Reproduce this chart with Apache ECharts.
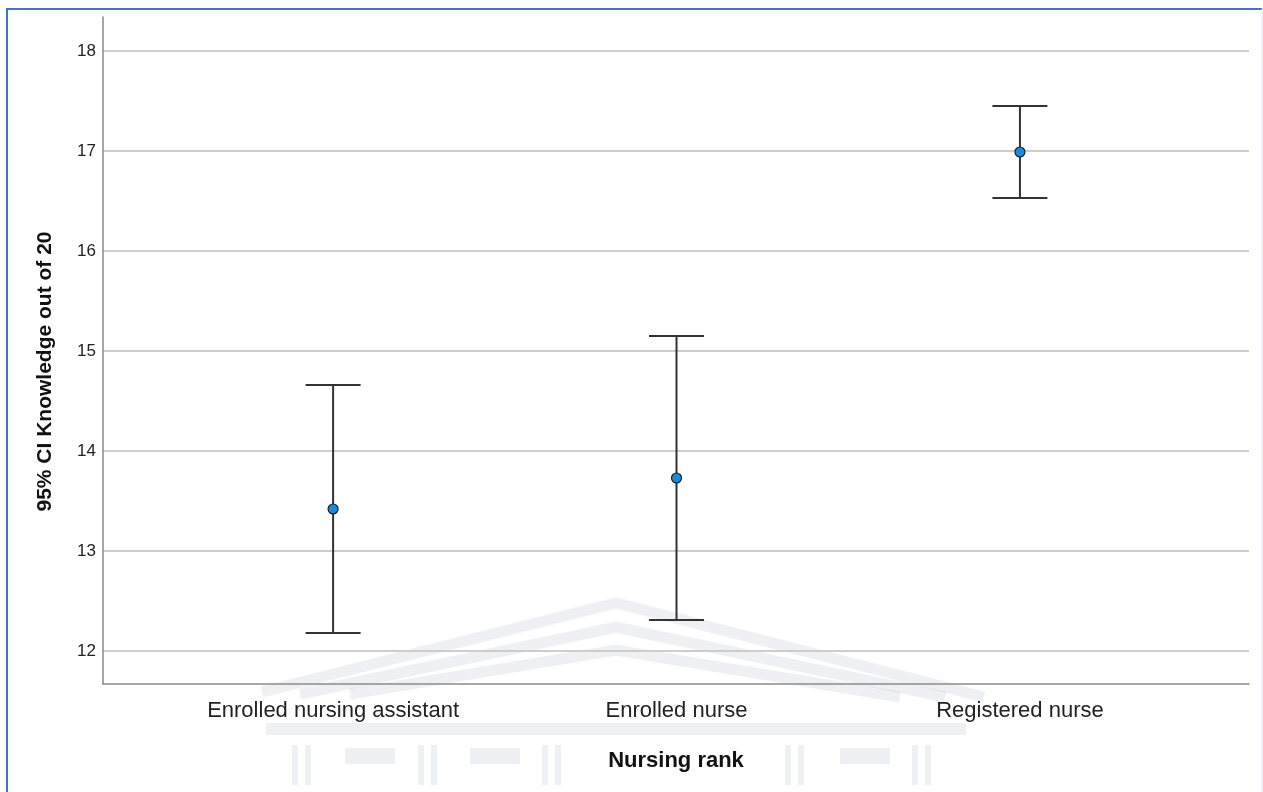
<!DOCTYPE html>
<html>
<head>
<meta charset="utf-8">
<script src="https://cdn.jsdelivr.net/npm/echarts@6/dist/echarts.min.js"></script>
<style>
  html, body { margin: 0; padding: 0; background: #fff; }
  #chart { width: 1263px; height: 792px; }
</style>
</head>
<body>
<div id="chart"></div>
<script>
// data
const categories = ['Enrolled nursing assistant', 'Enrolled nurse', 'Registered nurse'];
const means = [13.42, 13.73, 16.99];
const lowerCI = [12.18, 12.31, 16.53];
const upperCI = [14.66, 15.15, 17.45];
const yTicks = [12, 13, 14, 15, 16, 17, 18];

const font = "'Liberation Sans', Arial, sans-serif";
const wmColor = 'rgba(110,115,150,0.11)';

const instance = echarts.init(document.getElementById('chart'));

// faint building watermark behind the plot
const watermark = [
    { type: 'polyline', shape: { points: [[262, 692], [616, 603], [984, 697]] } },
    { type: 'polyline', shape: { points: [[300, 694], [616, 627], [945, 697]] } },
    { type: 'polyline', shape: { points: [[350, 694], [616, 650], [900, 697]] } },
    { type: 'rect', shape: { x: 266, y: 723, width: 700, height: 12 } },
    { type: 'rect', shape: { x: 292, y: 745, width: 6, height: 40 } },
    { type: 'rect', shape: { x: 305, y: 745, width: 6, height: 40 } },
    { type: 'rect', shape: { x: 345, y: 748, width: 50, height: 16 } },
    { type: 'rect', shape: { x: 418, y: 745, width: 6, height: 40 } },
    { type: 'rect', shape: { x: 431, y: 745, width: 6, height: 40 } },
    { type: 'rect', shape: { x: 470, y: 748, width: 50, height: 16 } },
    { type: 'rect', shape: { x: 542, y: 745, width: 6, height: 40 } },
    { type: 'rect', shape: { x: 555, y: 745, width: 6, height: 40 } },
    { type: 'rect', shape: { x: 785, y: 745, width: 6, height: 40 } },
    { type: 'rect', shape: { x: 798, y: 745, width: 6, height: 40 } },
    { type: 'rect', shape: { x: 840, y: 748, width: 50, height: 16 } },
    { type: 'rect', shape: { x: 912, y: 745, width: 6, height: 40 } },
    { type: 'rect', shape: { x: 925, y: 745, width: 6, height: 40 } }
].map(function (el) {
    if (el.type === 'polyline') {
        el.style = { stroke: wmColor, lineWidth: 11, fill: null };
    } else {
        el.style = { fill: wmColor };
    }
    el.z = -10;
    el.silent = true;
    return el;
});

// page frame: strong blue on left and top, faint on the right
const frame = [
    { type: 'polyline', shape: { points: [[7, 792], [7, 9], [1262, 9]] }, style: { stroke: '#4472c4', lineWidth: 2, fill: null } },
    { type: 'line', shape: { x1: 1262, y1: 9, x2: 1262, y2: 792 }, style: { stroke: '#dde4f2', lineWidth: 1 } }
].map(function (el) {
    el.z = 100;
    el.silent = true;
    return el;
});

let option = {
    backgroundColor: '#fff',
    animation: false,
    graphic: frame.concat(watermark),
    grid: {
        left: 103,
        right: 14,
        top: 17,
        bottom: 108
    },
    xAxis: {
        type: 'value',
        min: -0.67,
        max: 2.667,
        name: 'Nursing rank',
        nameLocation: 'middle',
        nameGap: 66,
        nameTextStyle: { fontFamily: font, fontSize: 22, fontWeight: 'bold', color: '#111' },
        axisLine: { show: true, onZero: false, lineStyle: { color: '#8a8a8a', width: 1.5 } },
        axisTick: { show: false, customValues: [0, 1, 2] },
        splitLine: { show: false },
        axisLabel: {
            customValues: [0, 1, 2],
            margin: 16,
            fontFamily: font,
            fontSize: 22,
            color: '#222',
            formatter: function (v) { return categories[Math.round(v)]; }
        }
    },
    yAxis: {
        type: 'value',
        min: 11.67,
        max: 18.34,
        name: '95% CI Knowledge out of 20',
        nameLocation: 'middle',
        nameGap: 47,
        nameTextStyle: {
            fontFamily: font, fontSize: 21, fontWeight: 'bold', color: '#111',
            padding: [0, 42, 0, 0]
        },
        axisLine: { show: true, onZero: false, lineStyle: { color: '#8a8a8a', width: 1.5 } },
        axisTick: { show: false, customValues: yTicks },
        splitLine: { show: true, lineStyle: { color: '#cdcdcd', width: 2 } },
        axisLabel: {
            customValues: yTicks,
            margin: 7,
            fontFamily: font,
            fontSize: 17,
            color: '#222'
        }
    },
    series: [
        {
            type: 'custom',
            name: 'CI',
            data: categories.map(function (c, i) { return [i, lowerCI[i], upperCI[i]]; }),
            renderItem: function (params, api) {
                const lo = api.coord([api.value(0), api.value(1)]);
                const hi = api.coord([api.value(0), api.value(2)]);
                const half = 27.5;
                const style = { stroke: '#333', lineWidth: 2 };
                return {
                    type: 'group',
                    children: [
                        { type: 'line', shape: { x1: lo[0], y1: lo[1], x2: hi[0], y2: hi[1] }, style: style },
                        { type: 'line', shape: { x1: lo[0] - half, y1: lo[1], x2: lo[0] + half, y2: lo[1] }, style: style },
                        { type: 'line', shape: { x1: hi[0] - half, y1: hi[1], x2: hi[0] + half, y2: hi[1] }, style: style }
                    ]
                };
            },
            z: 3
        },
        {
            type: 'scatter',
            name: 'Mean',
            data: categories.map(function (c, i) { return [i, means[i]]; }),
            symbol: 'circle',
            symbolSize: 10,
            itemStyle: { color: '#1a8ae0', borderColor: '#1e1e1e', borderWidth: 1.2, opacity: 1 },
            z: 5
        }
    ]
};
instance.setOption(option);
</script>
</body>
</html>
